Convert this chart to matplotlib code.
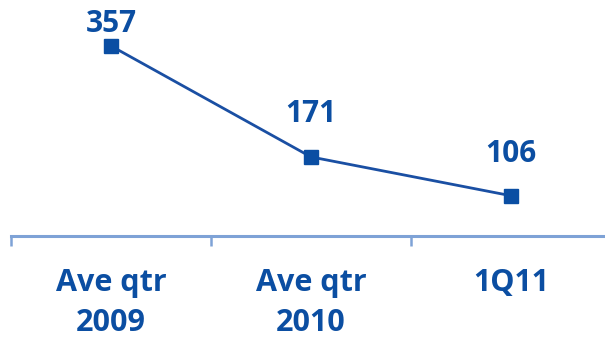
import matplotlib
matplotlib.use("Agg")
import matplotlib.pyplot as plt
from matplotlib.ticker import FixedLocator

categories = ["Ave qtr\n2009", "Ave qtr\n2010", "1Q11"]
values = [357, 171, 106]

line_color = "#1a4fa3"
text_color = "#0b4ea2"
axis_color = "#7ea2d6"

plt.rcParams["font.family"] = ["Open Sans", "DejaVu Sans"]

fig = plt.figure(figsize=(6.05, 3.42), dpi=100)
ax = fig.add_axes([11 / 605, 1 - 236 / 342, 594 / 605, 236 / 342])

x = [i + 0.5 for i in range(len(values))]
ax.plot(x, values, color=line_color, linewidth=2.0, marker="s",
        markersize=10.5, markerfacecolor="#0a4ea3", markeredgecolor="#0a4ea3",
        zorder=3)

ax.set_xlim(0, 594 / 200)
ax.set_ylim(38.5, 434)

# value labels above each point; the top one is kept inside the figure
label_offsets = [10, 25, 24]
for xi, v, off in zip(x, values, label_offsets):
    ax.annotate(str(v), (xi, v), xytext=(0, off), textcoords="offset points",
                ha="center", va="baseline", fontsize=21.5, fontweight="bold",
                color=text_color, annotation_clip=False)

for side in ("left", "right", "top"):
    ax.spines[side].set_visible(False)
ax.spines["bottom"].set_color(axis_color)
ax.spines["bottom"].set_linewidth(2.2)

ax.yaxis.set_visible(False)
ax.xaxis.set_major_locator(FixedLocator(x))
ax.set_xticklabels(categories)
ax.xaxis.set_minor_locator(FixedLocator([0, 1, 2, 3]))
ax.tick_params(axis="x", which="major", length=0, pad=23, labelsize=22,
               labelcolor=text_color)
ax.tick_params(axis="x", which="minor", direction="out", length=7.5,
               width=1.8, color=axis_color)
for lbl in ax.get_xticklabels():
    lbl.set_fontweight("bold")
    lbl.set_linespacing(1.45)

fig.savefig("out.png", dpi=100)
